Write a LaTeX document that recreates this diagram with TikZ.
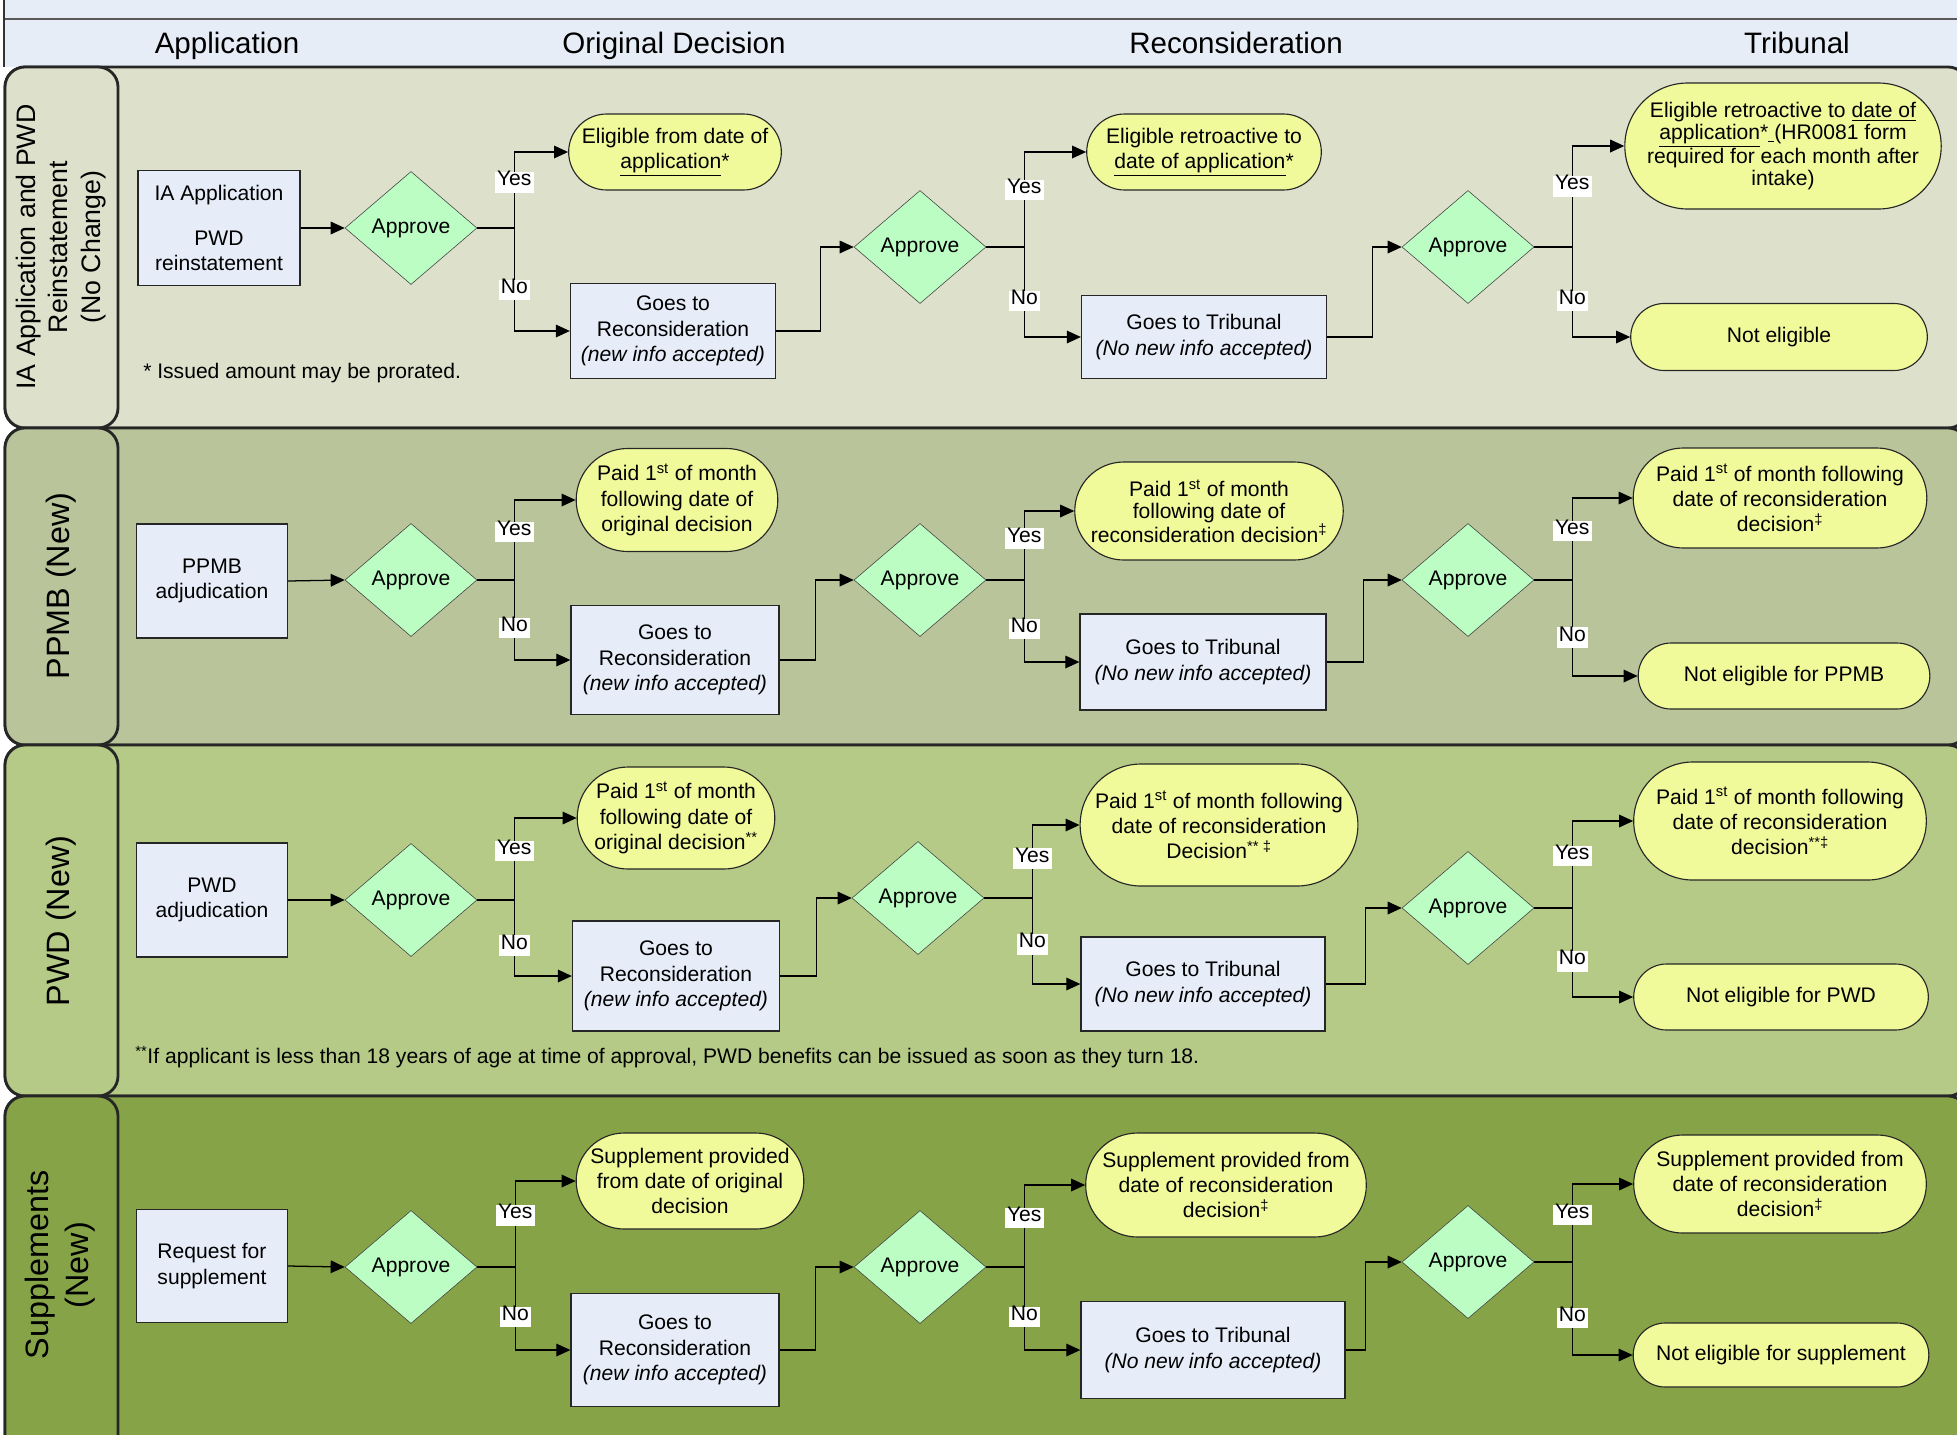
\documentclass[tikz,border=0pt]{standalone}
\usepackage{fontspec}
\setmainfont{Liberation Sans}
\usetikzlibrary{shapes.geometric,shapes.misc,arrows.meta}

\def\px{0.025cm}
\definecolor{hdrblue}{RGB}{230,237,247}
\definecolor{procblue}{RGB}{230,236,248}
\definecolor{okgreen}{RGB}{188,253,196}
\definecolor{resultyellow}{RGB}{240,250,155}
\definecolor{laneA}{RGB}{221,225,203}
\definecolor{laneB}{RGB}{186,196,154}
\definecolor{laneC}{RGB}{181,202,135}
\definecolor{laneD}{RGB}{134,164,71}

\tikzstyle{lane} = [draw=black!85, line width=2pt, rounded corners=0.5cm]
\tikzstyle{lanetitle} = [rotate=90, align=center, font=\fontsize{23}{28}\selectfont]
\tikzstyle{colhead} = [anchor=base, font=\fontsize{21}{25}\selectfont]
\tikzstyle{proc} = [draw=black!85, fill=procblue, rectangle, align=center, line width=0.9pt]
\tikzstyle{decision} = [draw=black!75, fill=okgreen, diamond, inner sep=0pt, minimum width=132*\px, minimum height=113*\px]
\tikzstyle{outcome} = [draw=black!85, fill=resultyellow, rounded rectangle, align=center, line width=0.8pt]
\tikzstyle{yesno} = [fill=white, inner xsep=1.5pt, inner ysep=2.5pt, text height=0.72em, text depth=0.22em]
\tikzstyle{remark} = [anchor=west, inner sep=0pt]
\tikzstyle{arrow} = [draw, -{Triangle[length=10pt, width=9pt]}, line width=0.9pt]

\begin{document}
\begin{tikzpicture}[x=0.025cm, y=-0.025cm, font=\fontsize{15}{18}\selectfont]
	\useasboundingbox (0,0) rectangle (1957,1434);
	\clip (0,0) rectangle (1957,1434);
	\fill[white] (0,0) rectangle (1957,1434);

	% Column headers
	\fill[hdrblue] (4,0) rectangle (1957,67);
	\draw[black!65, line width=1.5pt] (4,19) -- (1957,19);
	\draw[black!80, line width=0.8pt] (4,0) -- (4,67);
	\node[colhead] (hdr_app) at (227,53) {Application};
	\node[colhead] (hdr_orig) at (674,53) {Original Decision};
	\node[colhead] (hdr_recon) at (1236,53) {Reconsideration};
	\node[colhead] (hdr_trib) at (1797,53) {Tribunal};

	% Lanes
	\draw[lane, fill=laneA] (5,67) rectangle (1968,428);
	\draw[lane, fill=laneA] (5,67) rectangle (118,428);
	\draw[lane, fill=laneB] (5,428) rectangle (1968,745);
	\draw[lane, fill=laneB] (5,428) rectangle (118,745);
	\draw[lane, fill=laneC] (5,745) rectangle (1968,1096);
	\draw[lane, fill=laneC] (5,745) rectangle (118,1096);
	\draw[lane, fill=laneD] (5,1096) rectangle (1968,1470);
	\draw[lane, fill=laneD] (5,1096) rectangle (118,1470);
	\node[lanetitle, font=\fontsize{19}{23}\selectfont] (lane_ia) at (61,247) {IA Application and PWD\\Reinstatement\\(No Change)};
	\node[lanetitle] (lane_ppmb) at (61,586) {PPMB (New)};
	\node[lanetitle] (lane_pwd) at (61,921) {PWD (New)};
	\node[lanetitle] (lane_sup) at (60,1265) {Supplements\\(New)};

	% IA Application and PWD reinstatement
	\node[proc, minimum width=162*\px, minimum height=115*\px] (ia) at (219,228) {IA Application\\[0.9em]PWD\\reinstatement};
	\node[decision] (ia_ok) at (411,228) {Approve};
	\node[outcome, minimum width=208*\px, minimum height=76*\px] (ia_yes) at (675,152) {Eligible from date of\\\underline{application}*};
	\node[proc, minimum width=205*\px, minimum height=95*\px] (ia_recon) at (673,331) {Goes to\\Reconsideration\\\textit{(new info accepted)}};
	\node[decision] (ia_ok2) at (920,247) {Approve};
	\node[outcome, minimum width=244*\px, minimum height=76*\px] (ia_yes2) at (1204,152) {Eligible retroactive to\\\underline{date of application}*};
	\node[proc, minimum width=245*\px, minimum height=83*\px] (ia_trib) at (1204,337) {Goes to Tribunal\\\textit{(No new info accepted)}};
	\node[decision] (ia_ok3) at (1468,247) {Approve};
	\node[outcome, minimum width=309*\px, minimum height=126*\px, font=\fontsize{15}{15.5}\selectfont] (ia_yes3) at (1783,146) {Eligible retroactive to \underline{date of}\\\underline{application}*\underline{\ }(HR0081 form\\required for each month after\\intake)};
	\node[outcome, minimum width=306*\px, minimum height=67*\px] (ia_no3) at (1779,337) {Not eligible};
	\node[remark] (ia_note) at (143,373) {* Issued amount may be prorated.};

	\draw[arrow] (ia.east) -- (ia_ok.west);
	\draw[arrow] (ia_ok.east) -- ++(37,0) |- node[yesno, pos=0.3, name=ia_y] {Yes} (ia_yes.west);
	\draw[arrow] (ia_ok.east) -- ++(37,0) |- node[yesno, pos=0.3, name=ia_n] {No} (ia_recon.west);
	\draw[arrow] (ia_recon.east) -- ++(44,0) |- (ia_ok2.west);
	\draw[arrow] (ia_ok2.east) -- ++(38,0) |- node[yesno, pos=0.3, name=ia_y2] {Yes} (ia_yes2.west);
	\draw[arrow] (ia_ok2.east) -- ++(38,0) |- node[yesno, pos=0.3, name=ia_n2] {No} (ia_trib.west);
	\draw[arrow] (ia_trib.east) -- ++(45,0) |- (ia_ok3.west);
	\draw[arrow] (ia_ok3.east) -- ++(38,0) |- node[yesno, pos=0.3, name=ia_y3] {Yes} (ia_yes3.west);
	\draw[arrow] (ia_ok3.east) -- ++(38,0) |- node[yesno, pos=0.3, name=ia_n3] {No} (ia_no3.west);

	% PPMB
	\node[proc, minimum width=151*\px, minimum height=114*\px] (ppmb) at (212,581) {PPMB\\adjudication};
	\node[decision] (ppmb_ok) at (411,580) {Approve};
	\node[outcome, minimum width=211*\px, minimum height=103*\px] (ppmb_yes) at (677,500) {Paid 1\textsuperscript{st} of month\\following date of\\original decision};
	\node[proc, minimum width=208*\px, minimum height=109*\px] (ppmb_recon) at (675,660) {Goes to\\Reconsideration\\\textit{(new info accepted)}};
	\node[decision] (ppmb_ok2) at (920,580) {Approve};
	\node[outcome, minimum width=255*\px, minimum height=98*\px, font=\fontsize{15}{15.5}\selectfont] (ppmb_yes2) at (1209,511) {Paid 1\textsuperscript{st} of month\\following date of\\reconsideration decision\textsuperscript{‡}};
	\node[proc, minimum width=246*\px, minimum height=96*\px] (ppmb_trib) at (1203,662) {Goes to Tribunal\\\textit{(No new info accepted)}};
	\node[decision] (ppmb_ok3) at (1468,580) {Approve};
	\node[outcome, minimum width=303*\px, minimum height=100*\px] (ppmb_yes3) at (1780,498) {Paid 1\textsuperscript{st} of month following\\date of reconsideration\\decision\textsuperscript{‡}};
	\node[outcome, minimum width=301*\px, minimum height=66*\px] (ppmb_no3) at (1784,676) {Not eligible for PPMB};

	\draw[arrow] (ppmb.east) -- (ppmb_ok.west);
	\draw[arrow] (ppmb_ok.east) -- ++(37,0) |- node[yesno, pos=0.3, name=ppmb_y] {Yes} (ppmb_yes.west);
	\draw[arrow] (ppmb_ok.east) -- ++(37,0) |- node[yesno, pos=0.3, name=ppmb_n] {No} (ppmb_recon.west);
	\draw[arrow] (ppmb_recon.east) -- ++(36,0) |- (ppmb_ok2.west);
	\draw[arrow] (ppmb_ok2.east) -- ++(38,0) |- node[yesno, pos=0.3, name=ppmb_y2] {Yes} (ppmb_yes2.west);
	\draw[arrow] (ppmb_ok2.east) -- ++(38,0) |- node[yesno, pos=0.3, name=ppmb_n2] {No} (ppmb_trib.west);
	\draw[arrow] (ppmb_trib.east) -- ++(37,0) |- (ppmb_ok3.west);
	\draw[arrow] (ppmb_ok3.east) -- ++(38,0) |- node[yesno, pos=0.3, name=ppmb_y3] {Yes} (ppmb_yes3.west);
	\draw[arrow] (ppmb_ok3.east) -- ++(38,0) |- node[yesno, pos=0.3, name=ppmb_n3] {No} (ppmb_no3.west);

	% PWD
	\node[proc, minimum width=151*\px, minimum height=114*\px] (pwd) at (212,900) {PWD\\adjudication};
	\node[decision] (pwd_ok) at (411,900) {Approve};
	\node[outcome, minimum width=207*\px, minimum height=102*\px] (pwd_yes) at (676,818) {Paid 1\textsuperscript{st} of month\\following date of\\original decision\textsuperscript{**}};
	\node[proc, minimum width=207*\px, minimum height=110*\px] (pwd_recon) at (676,976) {Goes to\\Reconsideration\\\textit{(new info accepted)}};
	\node[decision] (pwd_ok2) at (918,898) {Approve};
	\node[outcome, minimum width=276*\px, minimum height=122*\px] (pwd_yes2) at (1219,825) {Paid 1\textsuperscript{st} of month following\\date of reconsideration\\Decision\textsuperscript{** ‡}};
	\node[proc, minimum width=244*\px, minimum height=94*\px] (pwd_trib) at (1203,984) {Goes to Tribunal\\\textit{(No new info accepted)}};
	\node[decision] (pwd_ok3) at (1468,908) {Approve};
	\node[outcome, minimum width=302*\px, minimum height=118*\px] (pwd_yes3) at (1780,821) {Paid 1\textsuperscript{st} of month following\\date of reconsideration\\decision\textsuperscript{**‡}};
	\node[outcome, minimum width=304*\px, minimum height=66*\px] (pwd_no3) at (1781,997) {Not eligible for PWD};
	\node[remark] (pwd_note) at (135,1057) {\textsuperscript{**}If applicant is less than 18 years of age at time of approval, PWD benefits can be issued as soon as they turn 18.};

	\draw[arrow] (pwd.east) -- (pwd_ok.west);
	\draw[arrow] (pwd_ok.east) -- ++(37,0) |- node[yesno, pos=0.3, name=pwd_y] {Yes} (pwd_yes.west);
	\draw[arrow] (pwd_ok.east) -- ++(37,0) |- node[yesno, pos=0.3, name=pwd_n] {No} (pwd_recon.west);
	\draw[arrow] (pwd_recon.east) -- ++(36,0) |- (pwd_ok2.west);
	\draw[arrow] (pwd_ok2.east) -- ++(48,0) |- node[yesno, pos=0.27, name=pwd_y2] {Yes} (pwd_yes2.west);
	\draw[arrow] (pwd_ok2.east) -- ++(48,0) |- node[yesno, pos=0.27, name=pwd_n2] {No} (pwd_trib.west);
	\draw[arrow] (pwd_trib.east) -- ++(40,0) |- (pwd_ok3.west);
	\draw[arrow] (pwd_ok3.east) -- ++(38,0) |- node[yesno, pos=0.3, name=pwd_y3] {Yes} (pwd_yes3.west);
	\draw[arrow] (pwd_ok3.east) -- ++(38,0) |- node[yesno, pos=0.3, name=pwd_n3] {No} (pwd_no3.west);

	% Supplements
	\node[proc, minimum width=151*\px, minimum height=113*\px] (sup) at (212,1266) {Request for\\supplement};
	\node[decision] (sup_ok) at (411,1267) {Approve};
	\node[outcome, minimum width=237*\px, minimum height=96*\px] (sup_yes) at (690,1181) {Supplement provided\\from date of original\\decision};
	\node[proc, minimum width=208*\px, minimum height=113*\px] (sup_recon) at (675,1350) {Goes to\\Reconsideration\\\textit{(new info accepted)}};
	\node[decision] (sup_ok2) at (920,1267) {Approve};
	\node[outcome, minimum width=290*\px, minimum height=104*\px] (sup_yes2) at (1226,1185) {Supplement provided from\\date of reconsideration\\decision\textsuperscript{‡}};
	\node[proc, minimum width=264*\px, minimum height=97*\px] (sup_trib) at (1213,1350) {Goes to Tribunal\\\textit{(No new info accepted)}};
	\node[decision] (sup_ok3) at (1468,1262) {Approve};
	\node[outcome, minimum width=302*\px, minimum height=98*\px] (sup_yes3) at (1780,1184) {Supplement provided from\\date of reconsideration\\decision\textsuperscript{‡}};
	\node[outcome, minimum width=305*\px, minimum height=64*\px] (sup_no3) at (1781,1355) {Not eligible for supplement};

	\draw[arrow] (sup.east) -- (sup_ok.west);
	\draw[arrow] (sup_ok.east) -- ++(38,0) |- node[yesno, pos=0.3, name=sup_y] {Yes} (sup_yes.west);
	\draw[arrow] (sup_ok.east) -- ++(38,0) |- node[yesno, pos=0.3, name=sup_n] {No} (sup_recon.west);
	\draw[arrow] (sup_recon.east) -- ++(36,0) |- (sup_ok2.west);
	\draw[arrow] (sup_ok2.east) -- ++(38,0) |- node[yesno, pos=0.3, name=sup_y2] {Yes} (sup_yes2.west);
	\draw[arrow] (sup_ok2.east) -- ++(38,0) |- node[yesno, pos=0.3, name=sup_n2] {No} (sup_trib.west);
	\draw[arrow] (sup_trib.east) -- ++(20,0) |- (sup_ok3.west);
	\draw[arrow] (sup_ok3.east) -- ++(38,0) |- node[yesno, pos=0.3, name=sup_y3] {Yes} (sup_yes3.west);
	\draw[arrow] (sup_ok3.east) -- ++(38,0) |- node[yesno, pos=0.3, name=sup_n3] {No} (sup_no3.west);
\end{tikzpicture}
\end{document}
